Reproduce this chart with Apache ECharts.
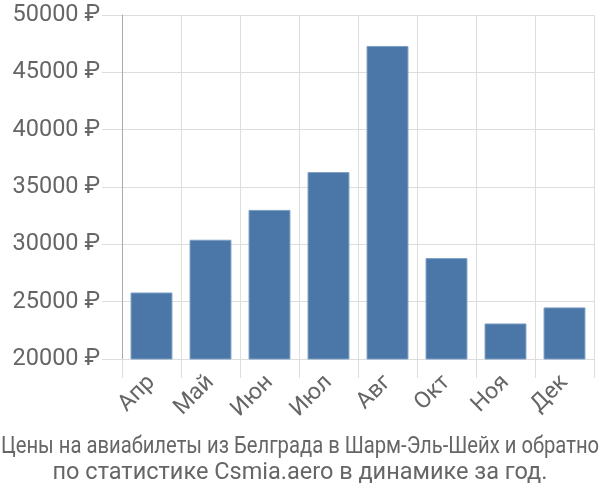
<!DOCTYPE html>
<html><head><meta charset="utf-8">
<script src="https://cdn.jsdelivr.net/npm/echarts@6/dist/echarts.min.js"></script>
<style>html,body{margin:0;padding:0;background:#fff}#c{width:600px;height:500px}</style>
</head><body><div id="c"></div>
<script>
var categories = ['Апр','Май','Июн','Июл','Авг','Окт','Ноя','Дек'];
var prices = [25800, 30400, 33000, 36300, 47300, 28800, 23100, 24500];
var yTicks = [20000, 25000, 30000, 35000, 40000, 45000, 50000];
var titleLines = ['Цены на авиабилеты из Белграда в Шарм-Эль-Шейх и обратно', 'по статистике Csmia.aero в динамике за год.'];

var chart = echarts.init(document.getElementById('c'), null, {renderer: 'canvas'});
chart.setOption({
  animation: false,
  grid: {left: 122, right: 6, top: 15, bottom: 141, containLabel: false},
  graphic: [
    {type: 'text', x: 300, y: 447, scaleX: 0.86, style: {text: titleLines[0], font: '23.5px Roboto', fill: '#666', textAlign: 'center', textVerticalAlign: 'middle'}},
    {type: 'text', x: 300, y: 473, style: {text: titleLines[1], font: '23.5px Roboto', fill: '#666', textAlign: 'center', textVerticalAlign: 'middle'}}
  ],
  xAxis: {
    type: 'category', data: categories,
    axisLine: {lineStyle: {color: '#ddd'}},
    axisTick: {show: true, length: 19, lineStyle: {color: '#ddd'}},
    splitLine: {show: true, lineStyle: {color: '#ddd'}},
    axisLabel: {rotate: 45, fontFamily: 'Roboto', fontSize: 23, color: '#666', margin: 20}
  },
  yAxis: {
    type: 'value', min: yTicks[0], max: yTicks[yTicks.length-1], interval: 5000,
    axisLine: {show: true, lineStyle: {color: '#aaa'}},
    axisTick: {show: true, length: 20, lineStyle: {color: '#ddd'}},
    splitLine: {show: true, lineStyle: {color: '#ddd'}},
    axisLabel: {fontFamily: 'Roboto', fontSize: 23.5, color: '#666', margin: 22, formatter: function(v){return v + ' ₽';}}
  },
  series: [{
    type: 'bar', data: prices, barCategoryGap: '29%',
    itemStyle: {color: '#4a76a8', borderColor: '#7d9fc4', borderWidth: 1}
  }]
});
</script></body></html>
